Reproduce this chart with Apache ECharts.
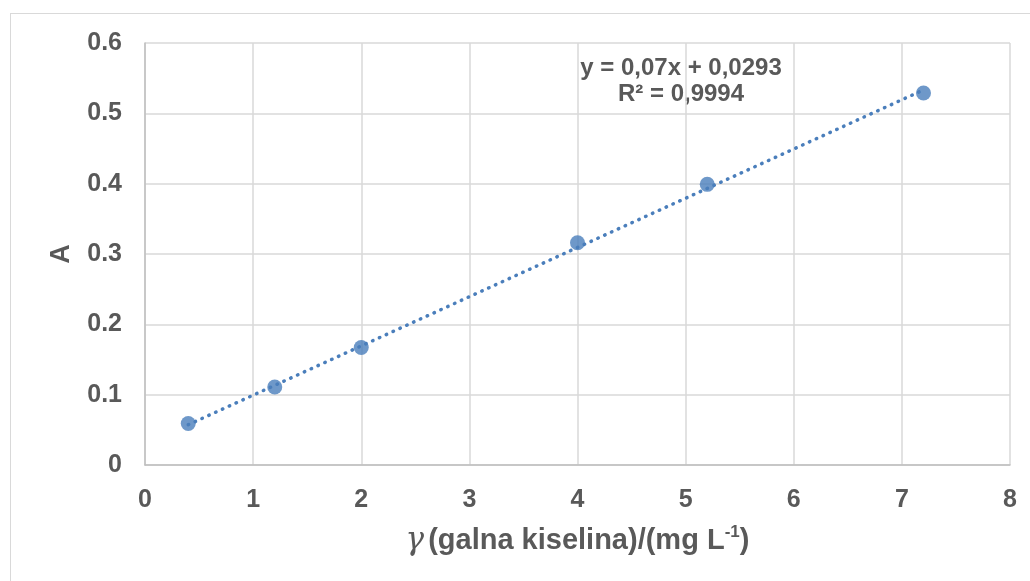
<!DOCTYPE html>
<html>
<head>
<meta charset="utf-8">
<script src="https://cdn.jsdelivr.net/npm/echarts@6/dist/echarts.min.js"></script>
<style>
html,body{margin:0;padding:0;background:#fff;}
#frame{position:absolute;left:10px;top:13px;width:1040px;height:600px;border:1px solid #d9d9d9;box-sizing:border-box;}
#chart{position:absolute;left:0;top:0;width:1030px;height:581px;}
</style>
</head>
<body>
<div id="frame"></div>
<div id="chart"></div>
<script>
const xValues = [0.4, 1.2, 2.0, 4.0, 5.2, 7.2];
const yValues = [0.059, 0.111, 0.167, 0.316, 0.399, 0.529];
const trendSlope = 0.07;
const trendIntercept = 0.0293;
const trendLabel = ['y = 0,07x + 0,0293', 'R² = 0,9994'];
const xAxisTicks = [0, 1, 2, 3, 4, 5, 6, 7, 8];
const yAxisTicks = [0, 0.1, 0.2, 0.3, 0.4, 0.5, 0.6];

const points = xValues.map((x, i) => [x, yValues[i]]);
const xMin = Math.min(...xValues), xMax = Math.max(...xValues);
const trend = [[xMin, trendSlope * xMin + trendIntercept], [xMax, trendSlope * xMax + trendIntercept]];

const labelColor = '#595959';
const font = 'Arial, "Liberation Sans", sans-serif';

const chart = echarts.init(document.getElementById('chart'), null, {renderer: 'canvas'});
chart.setOption({
  backgroundColor: 'transparent',
  animation: false,
  grid: {left: 145, right: 20, top: 43, bottom: 116},
  xAxis: {
    type: 'value', min: xAxisTicks[0], max: xAxisTicks[xAxisTicks.length - 1], interval: 1,
    axisLine: {show: true, lineStyle: {color: '#bfbfbf', width: 1.5}},
    axisTick: {show: false},
    splitLine: {show: true, lineStyle: {color: '#d9d9d9', width: 1.5}},
    axisLabel: {color: labelColor, fontSize: 25, fontWeight: 'bold', fontFamily: font, margin: 23},
    name: '{g|γ}{t|(galna kiselina)/(mg L}{s|-1}{t|)}',
    nameLocation: 'middle', nameGap: 59,
    nameTextStyle: {
      rich: {
        g: {fontSize: 31, fontStyle: 'italic', fontFamily: '"DejaVu Serif", serif', color: labelColor, padding: [0, 4, 0, 0]},
        t: {fontSize: 29, fontWeight: 'bold', fontFamily: font, color: labelColor},
        s: {fontSize: 17, fontWeight: 'bold', fontFamily: font, color: labelColor, verticalAlign: 'top', padding: [0, 0, 16, 0]}
      }
    }
  },
  yAxis: {
    type: 'value', min: yAxisTicks[0], max: yAxisTicks[yAxisTicks.length - 1], interval: 0.1,
    axisLine: {show: true, lineStyle: {color: '#bfbfbf', width: 1.5}},
    axisTick: {show: false},
    splitLine: {show: true, lineStyle: {color: '#d9d9d9', width: 1.5}},
    axisLabel: {color: labelColor, fontSize: 25, fontWeight: 'bold', fontFamily: font, margin: 23},
    name: 'A', nameLocation: 'middle', nameGap: 70, nameRotate: 90,
    nameTextStyle: {color: labelColor, fontSize: 27, fontWeight: 'bold', fontFamily: font}
  },
  series: [
    {
      type: 'line', data: trend, showSymbol: false, silent: true, z: 2,
      lineStyle: {color: '#4a7ebb', width: 3.5, type: [0.5, 7], cap: 'round'}
    },
    {
      type: 'scatter', data: points, symbol: 'circle', symbolSize: 15, z: 3,
      itemStyle: {color: '#4a7ebb'}
    }
  ],
  graphic: [{
    type: 'text', x: 681, y: 55,
    style: {
      text: trendLabel.join('\n'), textAlign: 'center', textVerticalAlign: 'top',
      fill: labelColor, font: 'bold 24px Arial, "Liberation Sans", sans-serif', lineHeight: 26
    }
  }]
});
</script>
</body>
</html>
